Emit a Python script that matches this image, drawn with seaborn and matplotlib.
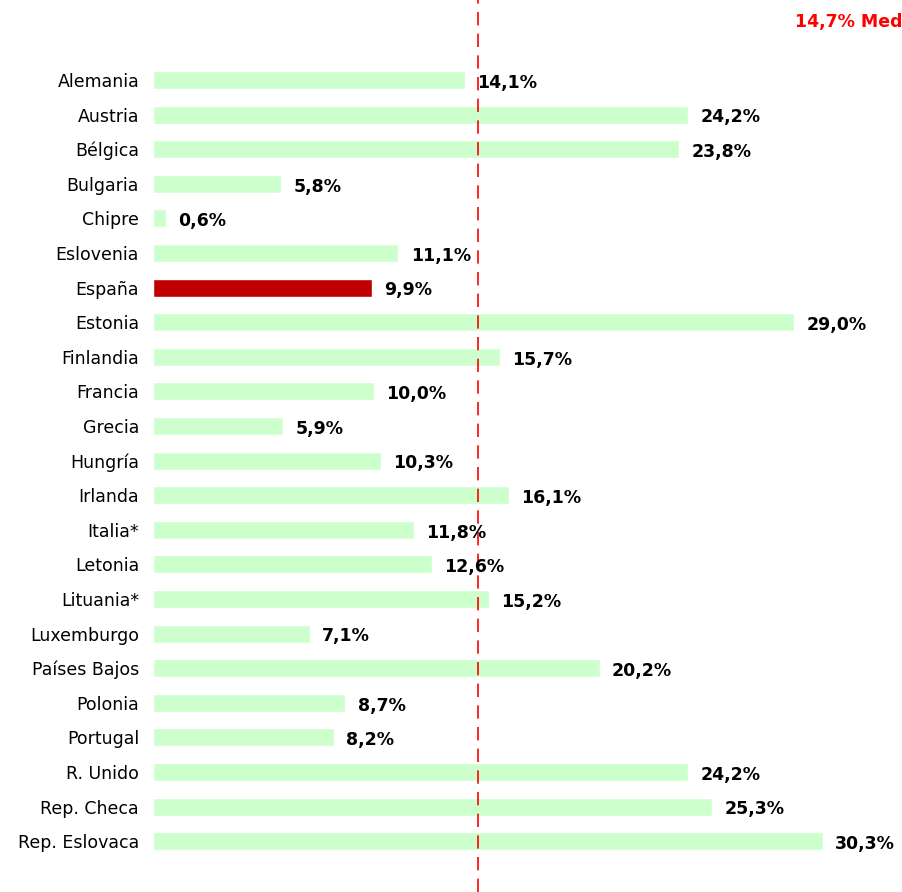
import seaborn as sns
import matplotlib.pyplot as plt
import pandas as pd

# data
paises = ["Alemania", "Austria", "Bélgica", "Bulgaria", "Chipre", "Eslovenia",
          "España", "Estonia", "Finlandia", "Francia", "Grecia", "Hungría",
          "Irlanda", "Italia*", "Letonia", "Lituania*", "Luxemburgo",
          "Países Bajos", "Polonia", "Portugal", "R. Unido", "Rep. Checa",
          "Rep. Eslovaca"]
valores = [14.1, 24.2, 23.8, 5.8, 0.6, 11.1, 9.9, 29.0, 15.7, 10.0, 5.9, 10.3,
           16.1, 11.8, 12.6, 15.2, 7.1, 20.2, 8.7, 8.2, 24.2, 25.3, 30.3]
media = 14.7

df = pd.DataFrame({"pais": paises, "valor": valores})
df["grupo"] = ["esp" if p == "España" else "resto" for p in paises]

sns.set_style("white")
plt.rcParams["font.family"] = ["DejaVu Sans"]

fig = plt.figure(figsize=(9.03, 8.92), dpi=100)
ax = fig.add_axes([153 / 903, 0, 750 / 903, 1])

sns.barplot(data=df, y="pais", x="valor", hue="grupo", orient="h",
            palette={"esp": "#C00000", "resto": "#CCFFCC"},
            width=0.52, dodge=False, legend=False, ax=ax, saturation=1)

ax.set_xlim(0, 750 / 22.11)
ax.set_ylim(892 / 34.6 - 80 / 34.6, -80 / 34.6)

ax.axvline(media, color="#FF0000", linestyle=(0, (8, 5)), linewidth=1.2, zorder=3)

for i, v in enumerate(valores):
    ax.text(v + 0.55, i + 0.08, f"{v:.1f}%".replace(".", ","), va="center",
            ha="left", fontsize=12.5, fontweight="bold", color="black", zorder=4)

# the legend text is cut at the right edge in the original
fig.text(0.999, 1 - 22 / 892, f"{media:.1f}% Med".replace(".", ","),
         color="#FF0000", fontsize=12.5, fontweight="bold", va="center", ha="right")

ax.set_xlabel("")
ax.set_ylabel("")
ax.set_xticks([])
ax.tick_params(axis="y", length=0, labelsize=12.5, pad=10, labelcolor="black")
for s in ax.spines.values():
    s.set_visible(False)

fig.savefig("out.png", dpi=100)
